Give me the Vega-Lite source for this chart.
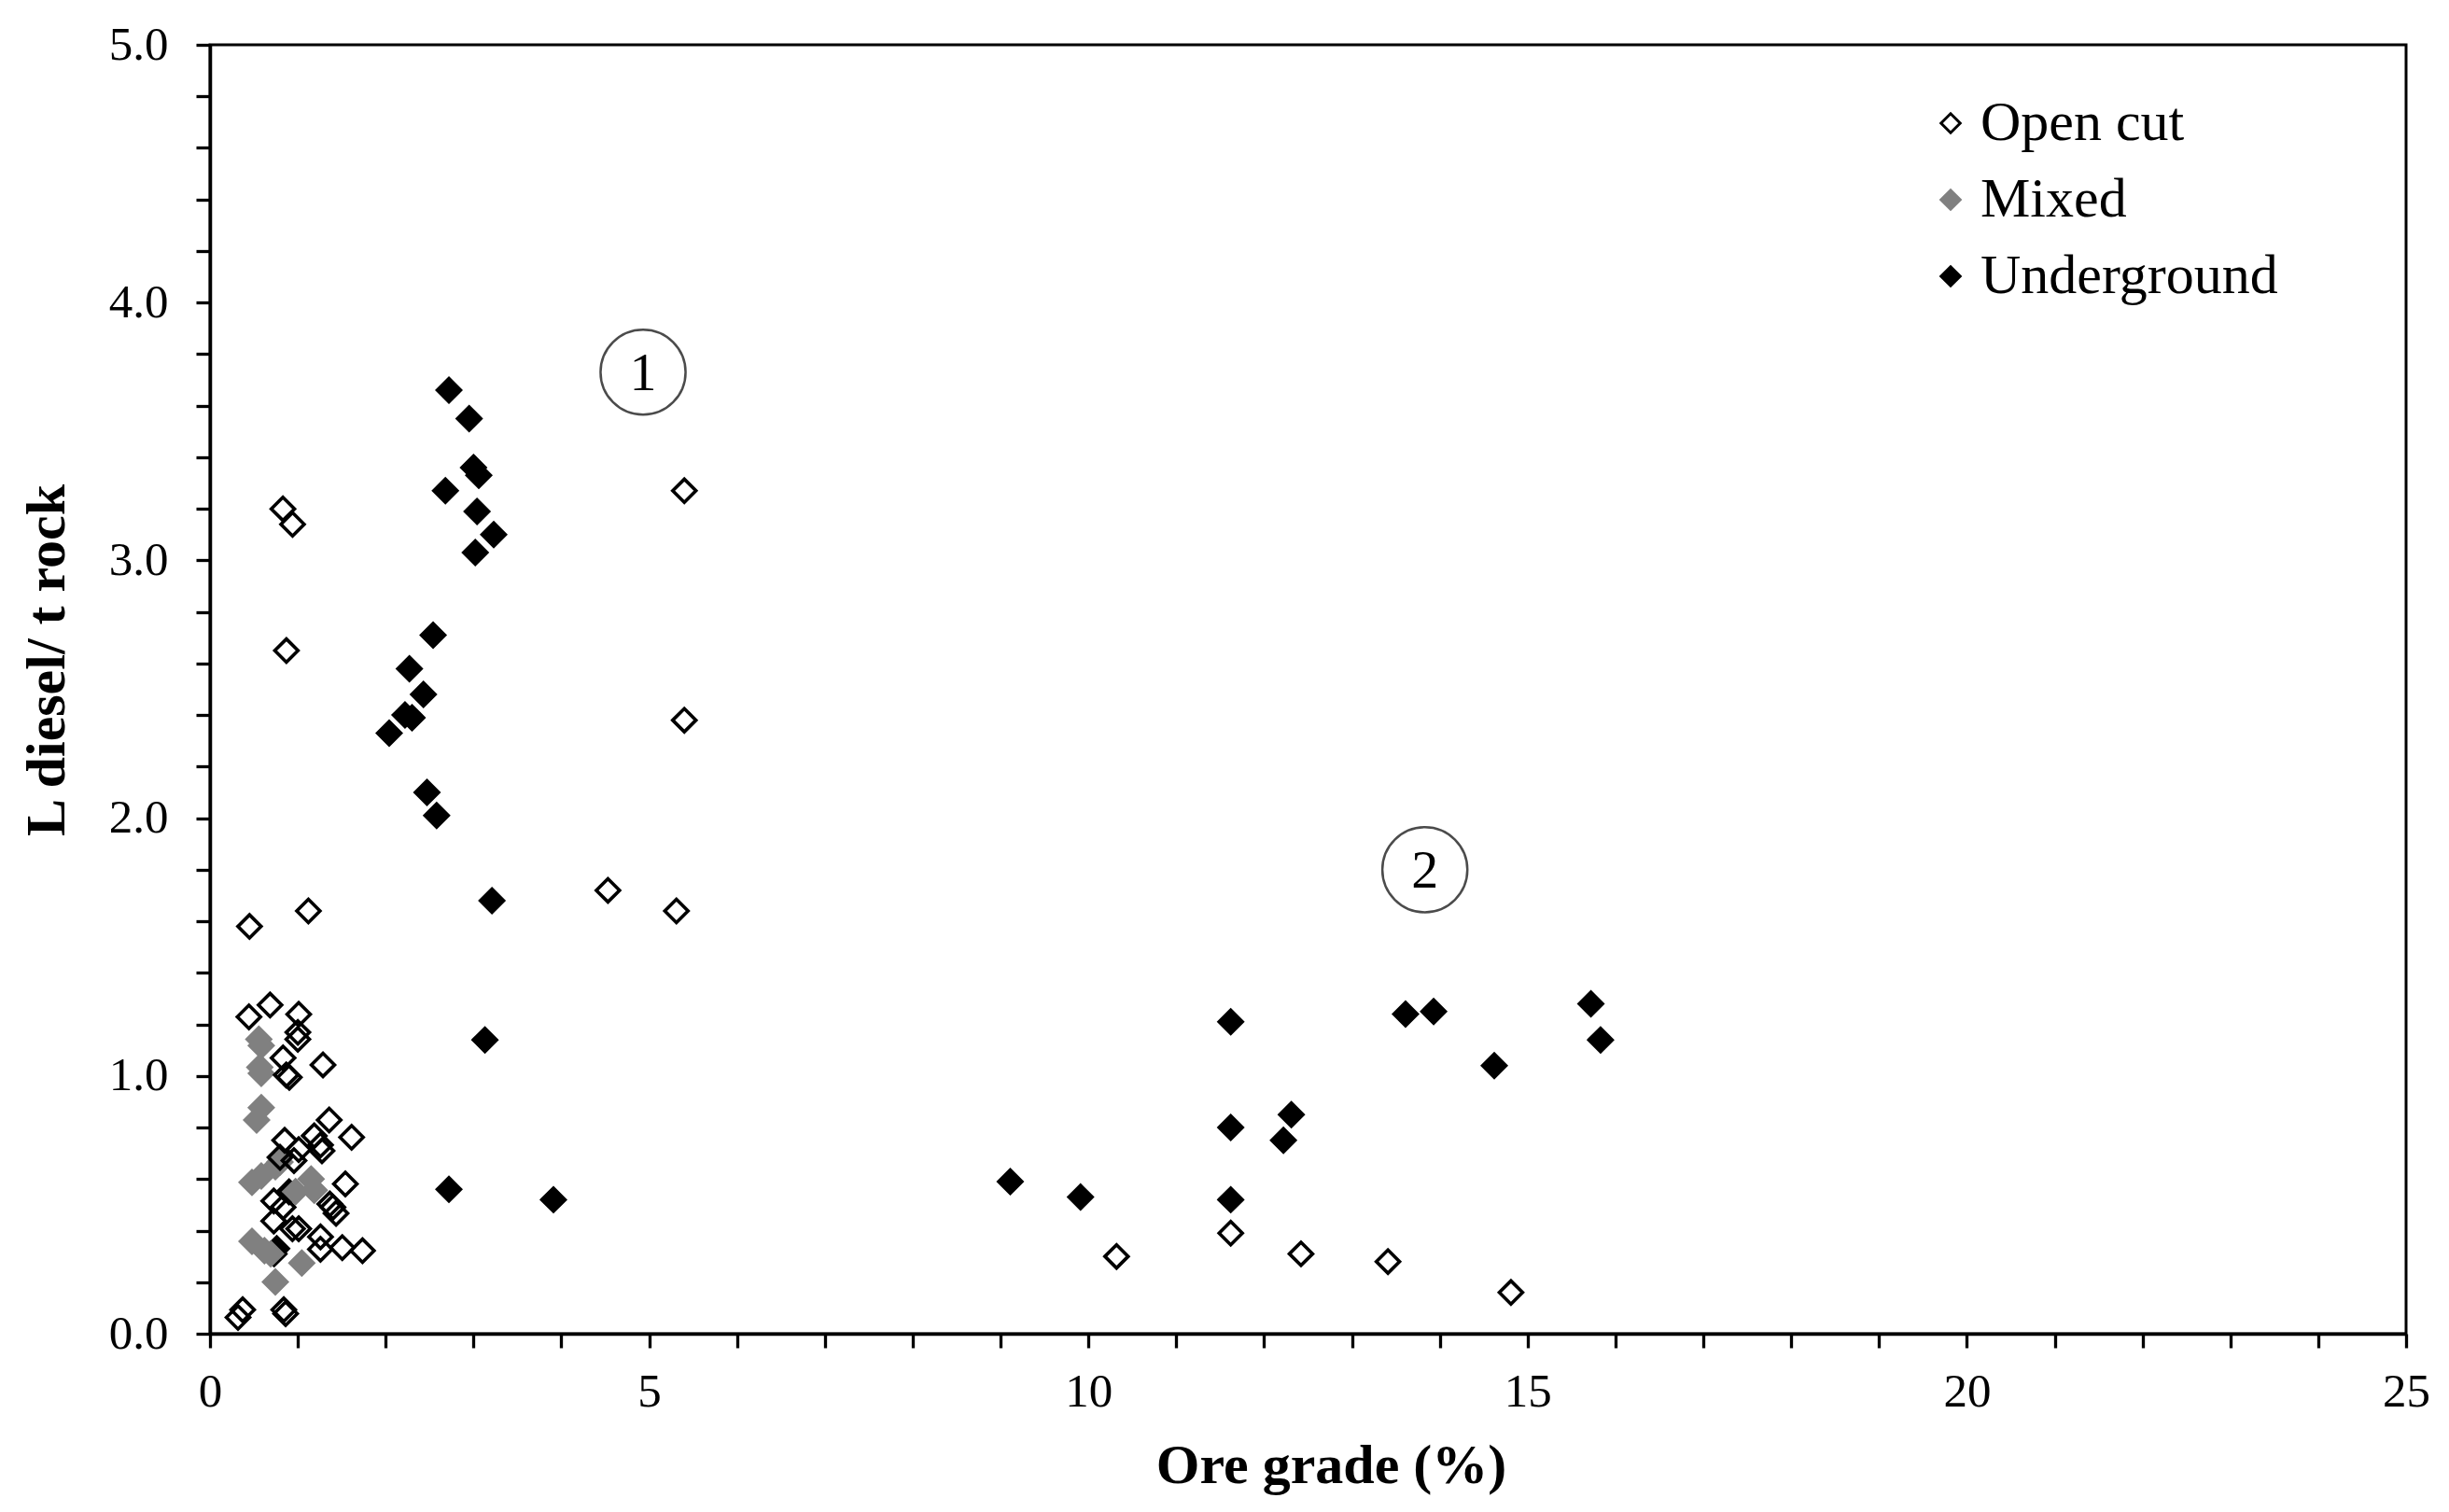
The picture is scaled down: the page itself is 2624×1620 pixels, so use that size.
{
  "$schema": "https://vega.github.io/schema/vega-lite/v6.json",
  "width": 2353,
  "height": 1381,
  "autosize": {"type": "none"},
  "padding": {"left": 225, "top": 48, "right": 46, "bottom": 191},
  "background": "white",
  "config": {
    "view": {"stroke": "black", "strokeWidth": 3},
    "font": "Liberation Serif",
    "axis": {
      "grid": false,
      "domainColor": "black",
      "domainWidth": 3.5,
      "tickColor": "black",
      "tickWidth": 3.3,
      "tickSize": 15,
      "labelFont": "Liberation Serif",
      "labelFontSize": 51,
      "labelColor": "black",
      "titleFont": "Liberation Serif",
      "titleFontSize": 60,
      "titleFontWeight": "bold",
      "titleColor": "black"
    },
    "legend": {
      "labelFont": "Liberation Serif",
      "labelFontSize": 60,
      "labelColor": "black",
      "labelLimit": 0,
      "symbolSize": 420,
      "symbolStrokeWidth": 3,
      "rowPadding": 22,
      "labelOffset": 2,
      "padding": 0
    }
  },
  "datasets": {
    "pts": [
      {"grade": 2.72, "diesel": 3.66, "type": "Underground"},
      {"grade": 2.95, "diesel": 3.55, "type": "Underground"},
      {"grade": 3.00, "diesel": 3.36, "type": "Underground"},
      {"grade": 3.06, "diesel": 3.33, "type": "Underground"},
      {"grade": 2.68, "diesel": 3.27, "type": "Underground"},
      {"grade": 3.04, "diesel": 3.19, "type": "Underground"},
      {"grade": 3.23, "diesel": 3.10, "type": "Underground"},
      {"grade": 3.02, "diesel": 3.03, "type": "Underground"},
      {"grade": 2.54, "diesel": 2.71, "type": "Underground"},
      {"grade": 2.27, "diesel": 2.58, "type": "Underground"},
      {"grade": 2.43, "diesel": 2.48, "type": "Underground"},
      {"grade": 2.22, "diesel": 2.40, "type": "Underground"},
      {"grade": 2.30, "diesel": 2.39, "type": "Underground"},
      {"grade": 2.04, "diesel": 2.33, "type": "Underground"},
      {"grade": 2.47, "diesel": 2.10, "type": "Underground"},
      {"grade": 2.58, "diesel": 2.01, "type": "Underground"},
      {"grade": 3.21, "diesel": 1.68, "type": "Underground"},
      {"grade": 3.13, "diesel": 1.14, "type": "Underground"},
      {"grade": 2.72, "diesel": 0.56, "type": "Underground"},
      {"grade": 3.91, "diesel": 0.52, "type": "Underground"},
      {"grade": 9.11, "diesel": 0.59, "type": "Underground"},
      {"grade": 9.91, "diesel": 0.53, "type": "Underground"},
      {"grade": 11.62, "diesel": 1.21, "type": "Underground"},
      {"grade": 11.62, "diesel": 0.80, "type": "Underground"},
      {"grade": 11.62, "diesel": 0.52, "type": "Underground"},
      {"grade": 12.31, "diesel": 0.85, "type": "Underground"},
      {"grade": 12.22, "diesel": 0.75, "type": "Underground"},
      {"grade": 13.61, "diesel": 1.24, "type": "Underground"},
      {"grade": 13.93, "diesel": 1.25, "type": "Underground"},
      {"grade": 14.62, "diesel": 1.04, "type": "Underground"},
      {"grade": 15.72, "diesel": 1.28, "type": "Underground"},
      {"grade": 15.83, "diesel": 1.14, "type": "Underground"},
      {"grade": 0.73, "diesel": 0.31, "type": "Underground"},
      {"grade": 0.76, "diesel": 0.33, "type": "Underground"},
      {"grade": 0.90, "diesel": 0.55, "type": "Underground"},
      {"grade": 0.556, "diesel": 1.142, "type": "Mixed"},
      {"grade": 0.584, "diesel": 1.118, "type": "Mixed"},
      {"grade": 0.567, "diesel": 1.034, "type": "Mixed"},
      {"grade": 0.584, "diesel": 1.010, "type": "Mixed"},
      {"grade": 0.584, "diesel": 0.877, "type": "Mixed"},
      {"grade": 0.531, "diesel": 0.829, "type": "Mixed"},
      {"grade": 0.478, "diesel": 0.587, "type": "Mixed"},
      {"grade": 0.584, "diesel": 0.612, "type": "Mixed"},
      {"grade": 0.744, "diesel": 0.648, "type": "Mixed"},
      {"grade": 0.797, "diesel": 0.666, "type": "Mixed"},
      {"grade": 0.974, "diesel": 0.551, "type": "Mixed"},
      {"grade": 1.151, "diesel": 0.600, "type": "Mixed"},
      {"grade": 1.187, "diesel": 0.557, "type": "Mixed"},
      {"grade": 0.478, "diesel": 0.358, "type": "Mixed"},
      {"grade": 0.620, "diesel": 0.322, "type": "Mixed"},
      {"grade": 0.691, "diesel": 0.310, "type": "Mixed"},
      {"grade": 1.045, "diesel": 0.274, "type": "Mixed"},
      {"grade": 0.744, "diesel": 0.201, "type": "Mixed"},
      {"grade": 0.83, "diesel": 3.20, "type": "Open cut"},
      {"grade": 0.94, "diesel": 3.14, "type": "Open cut"},
      {"grade": 5.40, "diesel": 3.27, "type": "Open cut"},
      {"grade": 0.87, "diesel": 2.65, "type": "Open cut"},
      {"grade": 5.40, "diesel": 2.38, "type": "Open cut"},
      {"grade": 4.53, "diesel": 1.72, "type": "Open cut"},
      {"grade": 5.31, "diesel": 1.64, "type": "Open cut"},
      {"grade": 1.12, "diesel": 1.64, "type": "Open cut"},
      {"grade": 0.45, "diesel": 1.58, "type": "Open cut"},
      {"grade": 10.32, "diesel": 0.30, "type": "Open cut"},
      {"grade": 11.62, "diesel": 0.39, "type": "Open cut"},
      {"grade": 12.42, "diesel": 0.31, "type": "Open cut"},
      {"grade": 13.41, "diesel": 0.28, "type": "Open cut"},
      {"grade": 14.81, "diesel": 0.16, "type": "Open cut"},
      {"grade": 0.684, "diesel": 1.275, "type": "Open cut"},
      {"grade": 0.443, "diesel": 1.229, "type": "Open cut"},
      {"grade": 1.01, "diesel": 1.239, "type": "Open cut"},
      {"grade": 1.00, "diesel": 1.169, "type": "Open cut"},
      {"grade": 1.00, "diesel": 1.142, "type": "Open cut"},
      {"grade": 0.832, "diesel": 1.070, "type": "Open cut"},
      {"grade": 1.286, "diesel": 1.043, "type": "Open cut"},
      {"grade": 0.868, "diesel": 1.004, "type": "Open cut"},
      {"grade": 0.903, "diesel": 0.995, "type": "Open cut"},
      {"grade": 1.357, "diesel": 0.829, "type": "Open cut"},
      {"grade": 1.612, "diesel": 0.762, "type": "Open cut"},
      {"grade": 1.187, "diesel": 0.768, "type": "Open cut"},
      {"grade": 1.258, "diesel": 0.732, "type": "Open cut"},
      {"grade": 1.275, "diesel": 0.710, "type": "Open cut"},
      {"grade": 0.850, "diesel": 0.750, "type": "Open cut"},
      {"grade": 1.01, "diesel": 0.714, "type": "Open cut"},
      {"grade": 0.797, "diesel": 0.684, "type": "Open cut"},
      {"grade": 0.956, "diesel": 0.672, "type": "Open cut"},
      {"grade": 1.541, "diesel": 0.581, "type": "Open cut"},
      {"grade": 0.726, "diesel": 0.515, "type": "Open cut"},
      {"grade": 0.832, "diesel": 0.491, "type": "Open cut"},
      {"grade": 1.364, "diesel": 0.503, "type": "Open cut"},
      {"grade": 1.435, "diesel": 0.467, "type": "Open cut"},
      {"grade": 1.399, "diesel": 0.491, "type": "Open cut"},
      {"grade": 0.726, "diesel": 0.437, "type": "Open cut"},
      {"grade": 0.939, "diesel": 0.407, "type": "Open cut"},
      {"grade": 1.01, "diesel": 0.407, "type": "Open cut"},
      {"grade": 1.258, "diesel": 0.376, "type": "Open cut"},
      {"grade": 1.258, "diesel": 0.328, "type": "Open cut"},
      {"grade": 1.506, "diesel": 0.334, "type": "Open cut"},
      {"grade": 1.736, "diesel": 0.322, "type": "Open cut"},
      {"grade": 0.372, "diesel": 0.093, "type": "Open cut"},
      {"grade": 0.319, "diesel": 0.063, "type": "Open cut"},
      {"grade": 0.840, "diesel": 0.093, "type": "Open cut"},
      {"grade": 0.861, "diesel": 0.078, "type": "Open cut"}
    ],
    "notes": [
      {"grade": 4.93, "diesel": 3.73, "label": "1"},
      {"grade": 13.83, "diesel": 1.80, "label": "2"}
    ]
  },
  "layer": [
    {
      "data": {"name": "pts"},
      "mark": {"type": "point", "shape": "diamond", "filled": true, "size": 620, "strokeWidth": 3.6, "opacity": 1},
      "encoding": {
        "x": {
          "field": "grade", "type": "quantitative",
          "scale": {"domain": [0, 25], "nice": false, "zero": true},
          "axis": {
            "title": "Ore grade (%)",
            "values": [0,1,2,3,4,5,6,7,8,9,10,11,12,13,14,15,16,17,18,19,20,21,22,23,24,25],
            "labelExpr": "datum.value % 5 == 0 ? datum.value : ''",
            "labelPadding": 22,
            "titlePadding": 25,
            "titleX": 1201,
            "labelFlush": false
          }
        },
        "y": {
          "field": "diesel", "type": "quantitative",
          "scale": {"domain": [0, 5], "nice": false},
          "axis": {
            "title": "L diesel/ t rock",
            "values": [0,0.2,0.4,0.6,0.8,1,1.2,1.4,1.6,1.8,2,2.2,2.4,2.6,2.8,3,3.2,3.4,3.6,3.8,4,4.2,4.4,4.6,4.8,5],
            "labelExpr": "abs(datum.value - round(datum.value)) < 0.001 ? format(datum.value, '.1f') : ''",
            "labelPadding": 30,
            "titlePadding": 35,
            "titleY": 659,
            "labelFlush": false
          }
        },
        "fill": {
          "field": "type", "type": "nominal",
          "scale": {"domain": ["Open cut", "Mixed", "Underground"], "range": ["transparent", "#808080", "black"]},
          "legend": {"title": null, "orient": "none", "legendX": 1835, "legendY": 54}
        },
        "stroke": {
          "field": "type", "type": "nominal",
          "scale": {"domain": ["Open cut", "Mixed", "Underground"], "range": ["black", "#808080", "black"]},
          "legend": {"title": null, "orient": "none", "legendX": 1835, "legendY": 54}
        },
        "shape": {
          "field": "type", "type": "nominal",
          "scale": {"domain": ["Open cut", "Mixed", "Underground"], "range": ["diamond", "diamond", "diamond"]},
          "legend": {"title": null, "orient": "none", "legendX": 1835, "legendY": 54}
        }
      }
    },
    {
      "data": {"name": "notes"},
      "mark": {"type": "point", "shape": "circle", "size": 8300, "filled": false, "stroke": "black", "strokeWidth": 2.5, "fill": "white"},
      "encoding": {
        "x": {"field": "grade", "type": "quantitative"},
        "y": {"field": "diesel", "type": "quantitative"}
      }
    },
    {
      "data": {"name": "notes"},
      "mark": {"type": "text", "font": "Liberation Serif", "fontSize": 58, "color": "black", "baseline": "middle", "align": "center", "dy": 2},
      "encoding": {
        "x": {"field": "grade", "type": "quantitative"},
        "y": {"field": "diesel", "type": "quantitative"},
        "text": {"field": "label"}
      }
    }
  ]
}
